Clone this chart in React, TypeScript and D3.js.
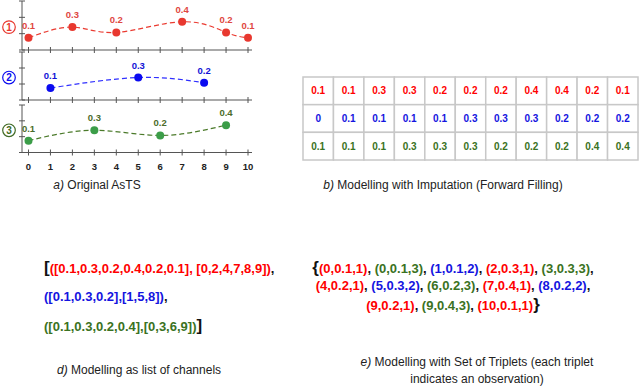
import React from 'react';
import * as d3 from 'd3';

// a) original asynchronous time series
const xTickLabels = [0, 1, 2, 3, 4, 5, 6, 7, 8, 9, 10];
const channelIds = ['1', '2', '3'];
const redTimes = [0, 2, 4, 7, 9, 10];
const redValues = [0.1, 0.3, 0.2, 0.4, 0.2, 0.1];
const blueTimes = [1, 5, 8];
const blueValues = [0.1, 0.3, 0.2];
const greenTimes = [0, 3, 6, 9];
const greenValues = [0.1, 0.3, 0.2, 0.4];

// b) forward filled table
const filledRed = ['0.1', '0.1', '0.3', '0.3', '0.2', '0.2', '0.2', '0.4', '0.4', '0.2', '0.1'];
const filledBlue = ['0', '0.1', '0.1', '0.1', '0.1', '0.3', '0.3', '0.3', '0.2', '0.2', '0.2'];
const filledGreen = ['0.1', '0.1', '0.1', '0.3', '0.3', '0.3', '0.2', '0.2', '0.2', '0.4', '0.4'];

// d) list of channels (as written in the figure)
const listRedValues = [0.1, 0.3, 0.2, 0.4, 0.2, 0.1];
const listRedTimes = [0, 2, 4, 7, 8, 9];
const listBlueValues = [0.1, 0.3, 0.2];
const listBlueTimes = [1, 5, 8];
const listGreenValues = [0.1, 0.3, 0.2, 0.4];
const listGreenTimes = [0, 3, 6, 9];

// e) triplets (time, value, channel)
const triplets: [number, number, number][] = [
  [0, 0.1, 1], [0, 0.1, 3], [1, 0.1, 2], [2, 0.3, 1], [3, 0.3, 3],
  [4, 0.2, 1], [5, 0.3, 2], [6, 0.2, 3], [7, 0.4, 1], [8, 0.2, 2],
  [9, 0.2, 1], [9, 0.4, 3], [10, 0.1, 1],
];
const tripletLineBreaks = [5, 10];

const FONT = '"Liberation Sans", Arial, sans-serif';
const pointColors = ['#e8382f', '#0b0bf0', '#3b9d48'];
const labelColors = ['#e0473f', '#1212d6', '#4c6c2b'];
const lineColors = ['#ea3a30', '#3030ff', '#4b7a2a'];
const textColors = ['#ff0000', '#1414e0', '#3a7222'];

const App = () => {
  const x = d3.scaleLinear().domain([0, 10]).range([28.5, 248]);
  const panels = [
    { times: redTimes, values: redValues, top: 1, bottom: 50 },
    { times: blueTimes, values: blueValues, top: 52, bottom: 100 },
    { times: greenTimes, values: greenValues, top: 105, bottom: 152.5 },
  ];
  const yDomain: [number, number] = [-0.13, 0.79];
  const yTickVals = d3.range(4).map((i) => yDomain[0] + (i * (yDomain[1] - yDomain[0])) / 3);
  const axisX = 22;

  const col = d3.scaleBand<number>().domain(d3.range(11)).range([303, 638]);
  const row = d3.scaleBand<number>().domain([0, 1, 2]).range([77, 160]);
  const tableRows = [filledRed, filledBlue, filledGreen];

  const fmtList = (v: number[], t: number[]) => `([${v.join(',')}],[${t.join(',')}])`;

  const tripletLines: [number, number, number][][] = [
    triplets.slice(0, tripletLineBreaks[0]),
    triplets.slice(tripletLineBreaks[0], tripletLineBreaks[1]),
    triplets.slice(tripletLineBreaks[1]),
  ];

  return (
    <svg width={640} height={388} style={{ position: 'absolute', left: 0, top: 0, background: '#fff' }}>
      {/* a) small multiples */}
      {panels.map((p, i) => {
        const y = d3.scaleLinear().domain(yDomain).range([p.bottom, p.top]);
        const pts = p.times.map((t, k) => [x(t), y(p.values[k])] as [number, number]);
        const line = d3.line().curve(d3.curveNatural)(pts) || '';
        return (
          <g key={i}>
            <line x1={axisX} x2={axisX} y1={p.top} y2={p.bottom} stroke="#555" strokeWidth={1} />
            {yTickVals.map((v, k) => (
              <line key={k} x1={axisX - 3} x2={axisX + 3} y1={y(v)} y2={y(v)} stroke="#555" strokeWidth={1} />
            ))}
            <line x1={axisX} x2={252} y1={p.bottom} y2={p.bottom} stroke="#555" strokeWidth={1} />
            {xTickLabels.map((t) => (
              <line key={t} x1={x(t)} x2={x(t)} y1={p.bottom - 3} y2={p.bottom + 3} stroke="#555" strokeWidth={1} />
            ))}
            <path d={line} fill="none" stroke={lineColors[i]} strokeWidth={1.2} strokeDasharray="5,3" />
            {pts.map(([px, py], k) => (
              <g key={k}>
                <circle cx={px} cy={py} r={4} fill={pointColors[i]} />
                <text x={px} y={py - 9} textAnchor="middle" fontFamily={FONT} fontWeight="bold" fontSize={9.5} fill={labelColors[i]}>
                  {p.values[k]}
                </text>
              </g>
            ))}
            <circle cx={9} cy={y(0.3)} r={6.3} fill="#fff" stroke={pointColors[i] === '#3b9d48' ? '#3f6a25' : pointColors[i]} strokeWidth={1.2} />
            <text x={9} y={y(0.3) + 3.6} textAnchor="middle" fontFamily={FONT} fontWeight="bold" fontSize={10} fill={i === 2 ? '#3f6a25' : pointColors[i]}>
              {channelIds[i]}
            </text>
          </g>
        );
      })}
      {xTickLabels.map((t) => (
        <text key={t} x={x(t)} y={169.5} textAnchor="middle" fontFamily={FONT} fontWeight="bold" fontSize={9.5} fill="#222">
          {t}
        </text>
      ))}
      <text x={97} y={189} textAnchor="middle" fontFamily={FONT} fontSize={12} fill="#222">
        <tspan fontStyle="italic">a)</tspan> Original AsTS
      </text>

      {/* b) forward filled table */}
      {tableRows.map((r, ri) =>
        r.map((v, ci) => (
          <g key={`${ri}-${ci}`}>
            <rect x={col(ci)} y={row(ri)} width={col.bandwidth()} height={row.bandwidth()} fill="#fff" stroke="#c8c8c8" strokeWidth={1.5} />
            <text x={(col(ci) || 0) + col.bandwidth() / 2} y={(row(ri) || 0) + row.bandwidth() / 2 + 3.5} textAnchor="middle" fontFamily={FONT} fontWeight="bold" fontSize={10} fill={textColors[ri]}>
              {v}
            </text>
          </g>
        ))
      )}
      <text x={443} y={189} textAnchor="middle" fontFamily={FONT} fontSize={12} fill="#222">
        <tspan fontStyle="italic">b)</tspan> Modelling with Imputation (Forward Filling)
      </text>

      {/* d) list of channels */}
      <text x={44} y={272.5} fontFamily={FONT} fontWeight="bold" fontSize={13}>
        <tspan fontSize={17} fill="#111">[</tspan>
        <tspan fill={textColors[0]}>{`([${listRedValues.join(',')}], [${listRedTimes.join(',')}])`}</tspan>
        <tspan fill="#111">,</tspan>
      </text>
      <text x={44} y={300.5} fontFamily={FONT} fontWeight="bold" fontSize={13}>
        <tspan fill={textColors[1]}>{fmtList(listBlueValues, listBlueTimes)}</tspan>
        <tspan fill="#111">,</tspan>
      </text>
      <text x={44} y={330.5} fontFamily={FONT} fontWeight="bold" fontSize={13}>
        <tspan fill={textColors[2]}>{fmtList(listGreenValues, listGreenTimes)}</tspan>
        <tspan fontSize={17} fill="#111">]</tspan>
      </text>
      <text x={139} y={374} textAnchor="middle" fontFamily={FONT} fontSize={12} fill="#222">
        <tspan fontStyle="italic">d)</tspan> Modelling as list of channels
      </text>

      {/* e) set of triplets */}
      {tripletLines.map((ln, li) => (
        <text key={li} x={453} y={[272.5, 289.5, 310][li]} textAnchor="middle" fontFamily={FONT} fontWeight="bold" fontSize={13}>
          {li === 0 && <tspan fontSize={17} fill="#111">{'{'}</tspan>}
          {ln.map((tr, k) => (
            <React.Fragment key={k}>
              <tspan fill={textColors[tr[2] - 1]}>{`(${tr[0]},${tr[1]},${tr[2]})`}</tspan>
              {(li < 2 || k < ln.length - 1) && <tspan fill="#111">{', '}</tspan>}
            </React.Fragment>
          ))}
          {li === 2 && <tspan fontSize={17} fill="#111">{'}'}</tspan>}
        </text>
      ))}
      <text x={477} y={366} textAnchor="middle" fontFamily={FONT} fontSize={12} fill="#222">
        <tspan fontStyle="italic">e)</tspan> Modelling with Set of Triplets (each triplet
      </text>
      <text x={477} y={383} textAnchor="middle" fontFamily={FONT} fontSize={12} fill="#222">
        indicates an observation)
      </text>
    </svg>
  );
};

export default App;
